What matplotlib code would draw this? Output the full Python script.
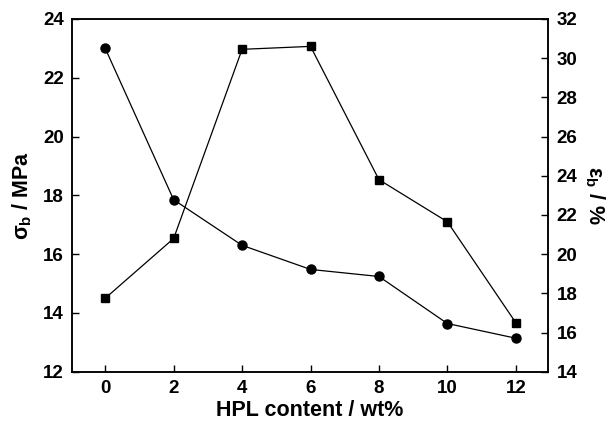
import matplotlib
matplotlib.use("Agg")
import matplotlib.pyplot as plt

plt.rcParams['font.family'] = ['Liberation Sans', 'DejaVu Sans']
plt.rcParams['font.weight'] = 'bold'
plt.rcParams['mathtext.fontset'] = 'custom'
plt.rcParams['mathtext.rm'] = 'Liberation Sans:bold'
plt.rcParams['mathtext.it'] = 'Liberation Sans:bold'
plt.rcParams['mathtext.bf'] = 'Liberation Sans:bold'

# HPL content (wt%)
hpl = [0, 2, 4, 6, 8, 10, 12]
# tensile strength sigma_b (MPa), left axis
sigma_b = [23.0, 17.85, 16.3, 15.48, 15.24, 13.64, 13.14]
# elongation at break eps_b (%), right axis
eps_b = [17.75, 20.8, 30.45, 30.6, 23.8, 21.65, 16.5]

fig = plt.figure(figsize=(6.13, 4.21), dpi=100)
ax = fig.add_axes([0.1175, 0.117, 0.777, 0.838])
ax2 = ax.twinx()

ax.plot(hpl, sigma_b, color='black', lw=0.9, marker='o', markersize=6.5)
ax2.plot(hpl, eps_b, color='black', lw=0.9, marker='s', markersize=6)

ax.set_xlim(-0.97, 12.95)
ax.set_ylim(12, 24)
ax2.set_ylim(14, 32)
ax.set_xticks(range(0, 13, 2))
ax.set_yticks(range(12, 25, 2))
ax2.set_yticks(range(14, 33, 2))

ax.tick_params(axis='both', direction='in', length=5, width=1, labelsize=13.5, pad=6)
ax2.tick_params(axis='y', direction='in', length=5, width=1, labelsize=13.5, pad=6)
for a in (ax, ax2):
    for s in a.spines.values():
        s.set_linewidth(1.1)

ax.set_xlabel('HPL content / wt%', fontsize=15.5, fontweight='bold', labelpad=2)
ax.set_ylabel(r'$\mathregular{\sigma_b}$ / MPa', fontsize=15.5, fontweight='bold', labelpad=6)
ax2.set_ylabel(r'$\mathregular{\varepsilon_b}$ / %', fontsize=15.5, fontweight='bold',
               rotation=270, va='center', ha='center')
ax2.yaxis.set_label_coords(1.097, 0.5)

fig.savefig('out.png', dpi=100)
